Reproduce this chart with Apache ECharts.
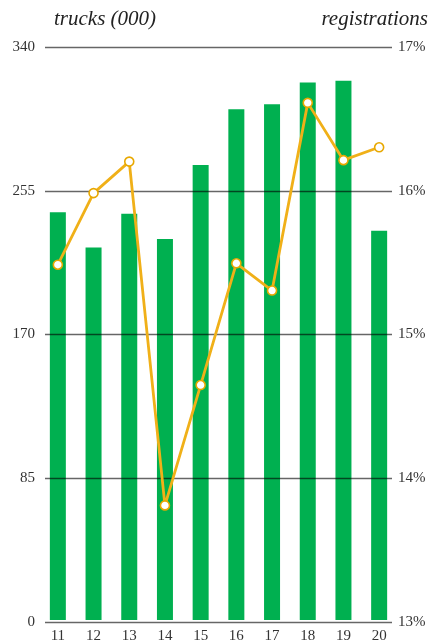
<!DOCTYPE html>
<html>
<head>
<meta charset="utf-8">
<script src="https://cdn.jsdelivr.net/npm/echarts@6/dist/echarts.min.js"></script>
<style>
  html, body { margin: 0; padding: 0; background: #fff; }
  #chart { width: 435px; height: 644px; }
</style>
</head>
<body>
<div id="chart"></div>
<script>
// years (20xx)
const years = ['11', '12', '13', '14', '15', '16', '17', '18', '19', '20'];
// trucks, thousands (left axis)
const trucks = [242, 221, 241, 226, 270, 303, 306, 319, 320, 231];
// registrations share, % (right axis)
const registrations = [15.48, 15.98, 16.2, 13.8, 14.64, 15.49, 15.3, 16.61, 16.21, 16.3];

const leftTicks = { min: 0, max: 340, interval: 85 };
const rightTicks = { min: 13, max: 17, interval: 1 };

const serif = '"Liberation Serif", "DejaVu Serif", serif';
const chart = echarts.init(document.getElementById('chart'));

chart.setOption({
  animation: false,
  title: [
    { text: 'trucks (000)', left: 49, top: 4,
      textStyle: { fontFamily: serif, fontStyle: 'italic', fontWeight: 'normal', fontSize: 21, color: '#222' } },
    { text: 'registrations', right: 2, top: 4,
      textStyle: { fontFamily: serif, fontStyle: 'italic', fontWeight: 'normal', fontSize: 21, color: '#222' } }
  ],
  grid: [
    // bars + line
    { left: 40, right: 38, top: 47, bottom: 22 },
    // gridlines + axis labels
    { left: 45, right: 43, top: 47, bottom: 22 }
  ],
  xAxis: [
    {
      type: 'category', gridIndex: 0, data: years,
      axisLine: { show: false }, axisTick: { show: false },
      axisLabel: { margin: 9, fontFamily: serif, fontSize: 15, color: '#333' }
    },
    { type: 'value', gridIndex: 1, show: false, min: 0, max: 1 }
  ],
  yAxis: [
    { type: 'value', gridIndex: 0, ...leftTicks, show: false },
    { type: 'value', gridIndex: 0, ...rightTicks, show: false },
    {
      type: 'value', gridIndex: 1, position: 'left', ...leftTicks, z: 3,
      axisLine: { show: false }, axisTick: { show: false },
      splitLine: { show: true, lineStyle: { color: 'rgba(0,0,0,0.6)', width: 1.3 } },
      axisLabel: { margin: 10, fontFamily: serif, fontSize: 15, color: '#333' }
    },
    {
      type: 'value', gridIndex: 1, position: 'right', ...rightTicks,
      axisLine: { show: false }, axisTick: { show: false },
      splitLine: { show: false },
      axisLabel: { margin: 6, fontFamily: serif, fontSize: 15, color: '#333',
        formatter: v => v + '%' }
    }
  ],
  series: [
    {
      name: 'trucks', type: 'bar', xAxisIndex: 0, yAxisIndex: 0,
      data: trucks, barWidth: 16,
      itemStyle: { color: '#00B050' }
    },
    {
      name: 'registrations', type: 'line', xAxisIndex: 0, yAxisIndex: 1,
      data: registrations, symbol: 'circle', symbolSize: 9,
      lineStyle: { color: '#F0B018', width: 2.8 },
      itemStyle: { color: '#fff', borderColor: '#E8A800', borderWidth: 1.6 },
      z: 5
    }
  ]
});
</script>
</body>
</html>
